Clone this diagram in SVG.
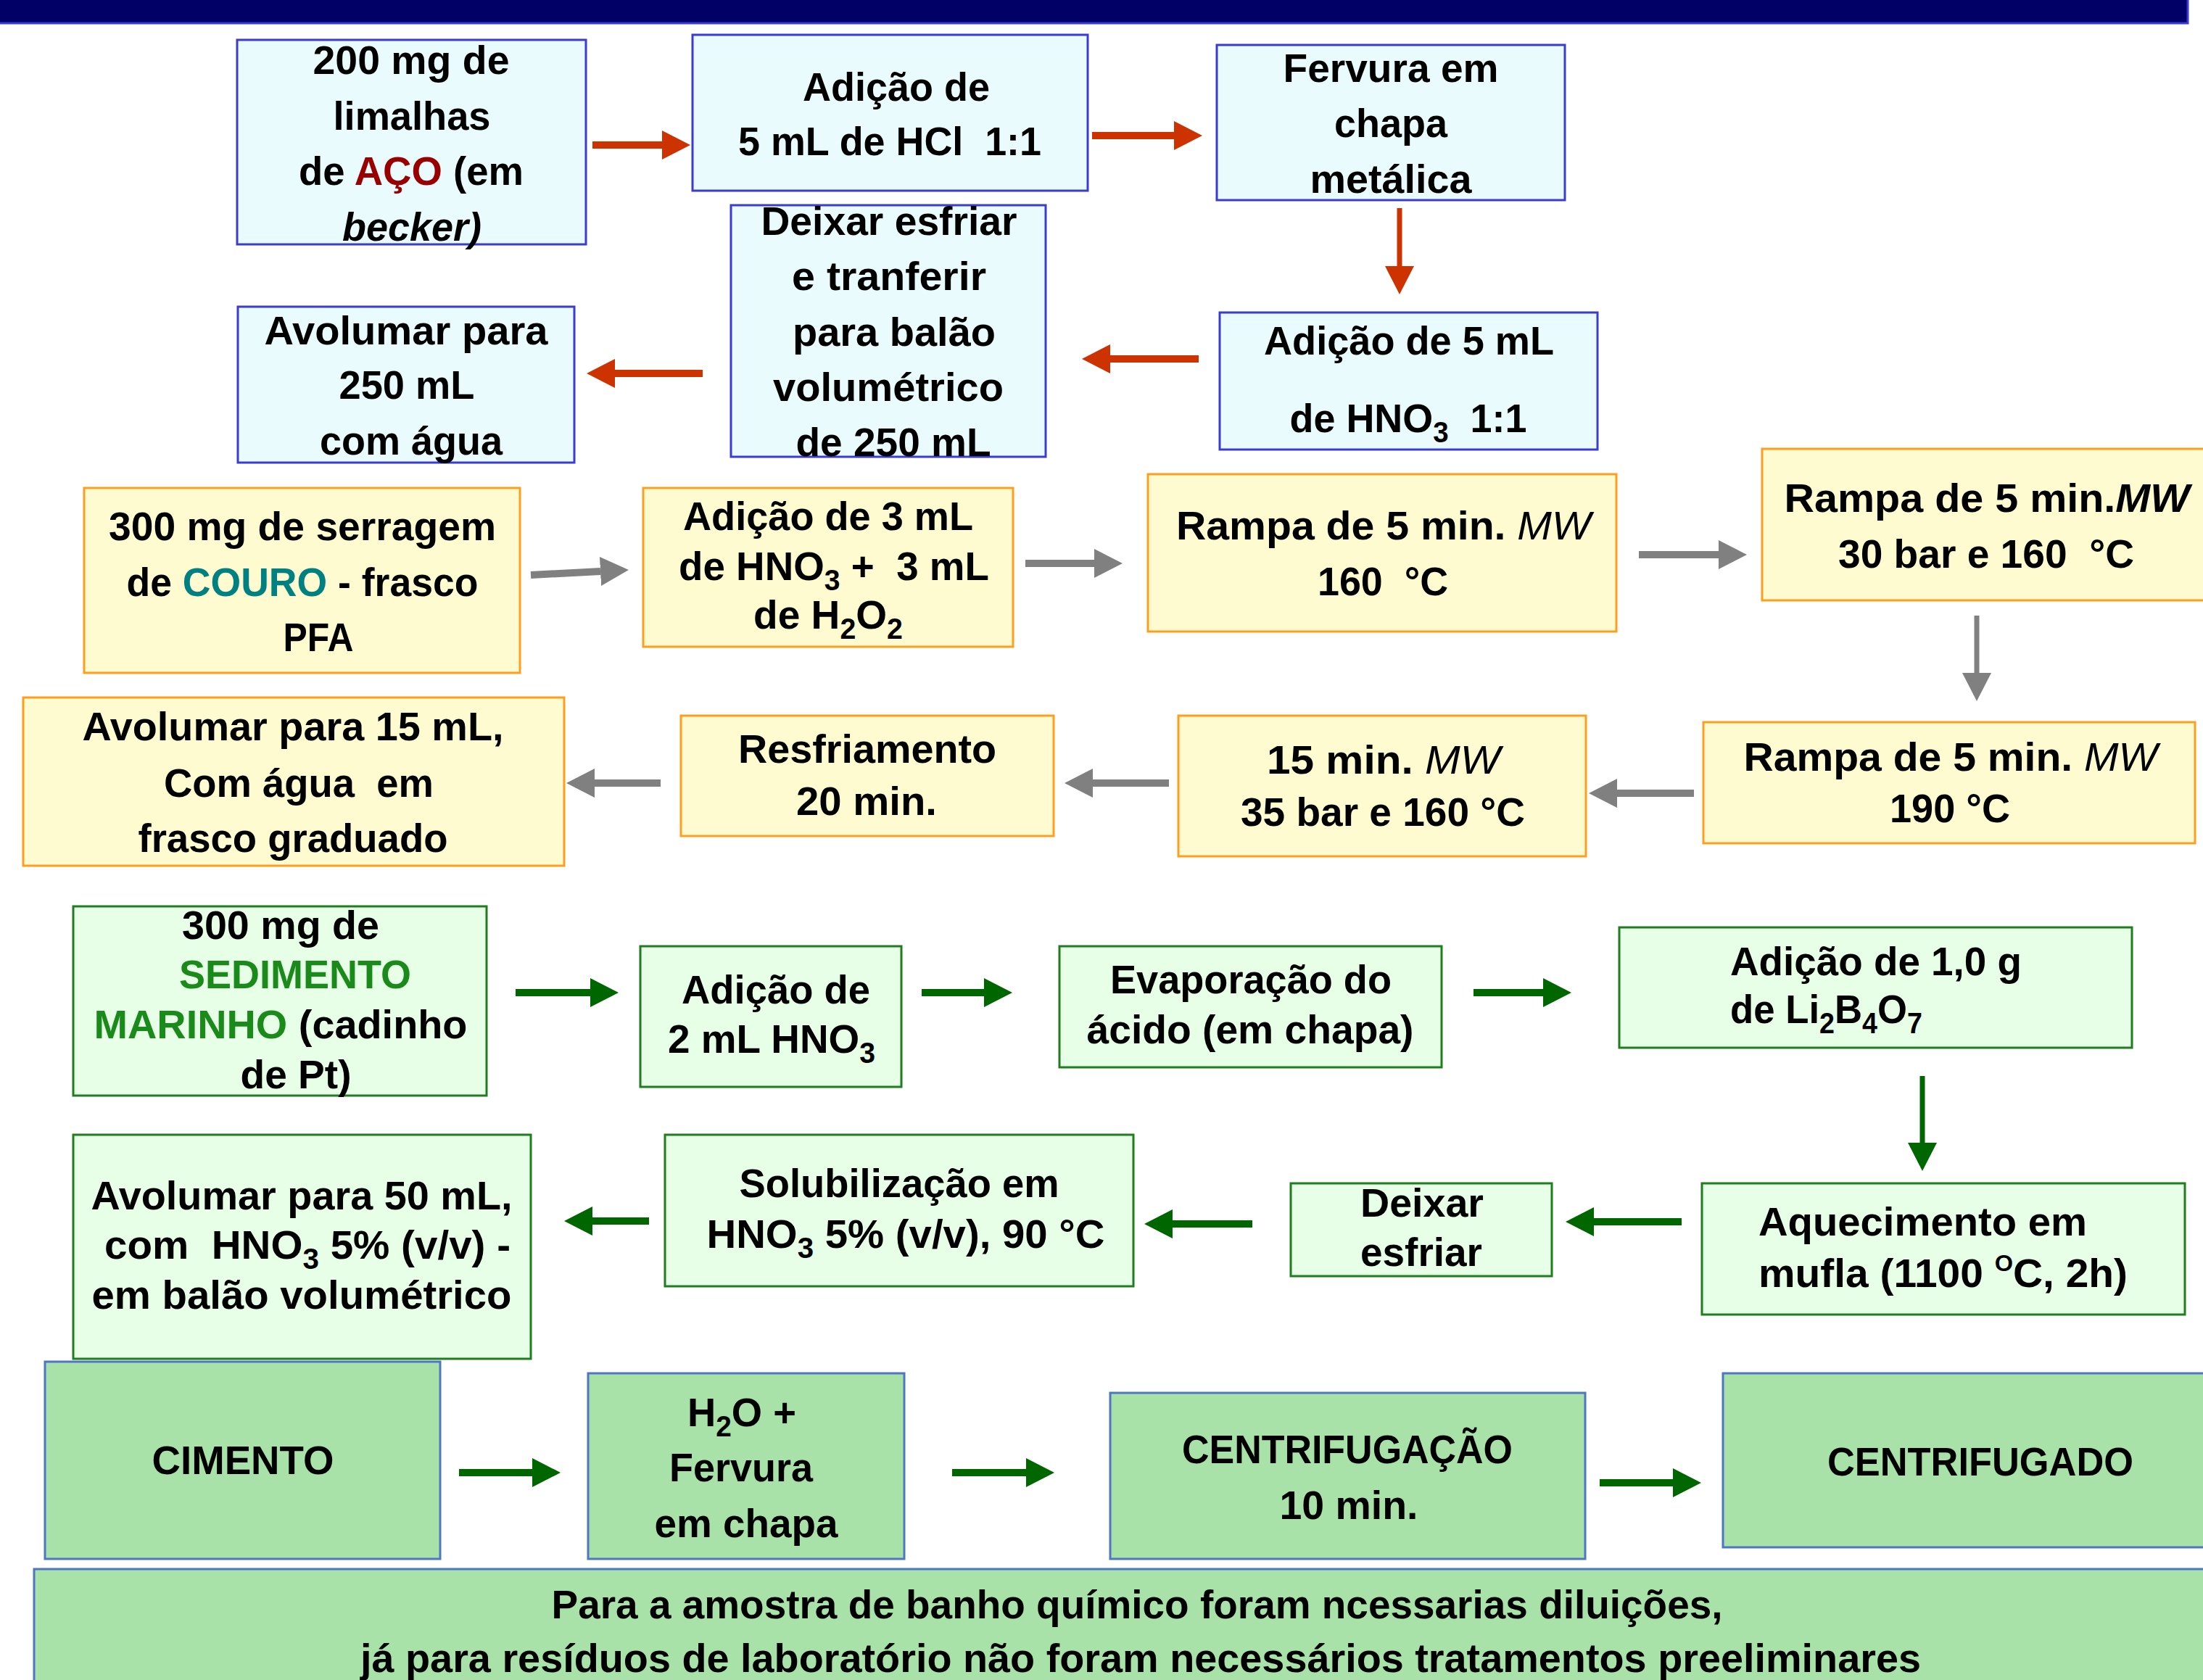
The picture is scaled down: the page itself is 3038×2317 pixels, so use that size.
<svg xmlns="http://www.w3.org/2000/svg" width="3038" height="2317" viewBox="0 0 3038 2317">
<style>
text{font-family:"Liberation Sans",Arial,sans-serif;font-weight:bold;font-size:56px;fill:#000;text-anchor:middle}
text.l{text-anchor:start}
.blue{fill:#e9fbfc;stroke:#3b3bd0;stroke-width:3}
.yel{fill:#fffbd0;stroke:#ff9d1e;stroke-width:3}
.grn{fill:#e6ffe6;stroke:#1f7d1f;stroke-width:3}
.cem{fill:#a8e2a8;stroke:#4f76c4;stroke-width:3}
.it{font-style:italic;font-weight:normal}
.itb{font-style:italic}
.sub{font-size:40px}
.aco{fill:#990000}
.couro{fill:#008080}
.sed{fill:#1a8a1a}
.ar{stroke:#cc3300;stroke-width:10;fill:none}
.ag{stroke:#808080;stroke-width:10;fill:none}
.an{stroke:#006600;stroke-width:10;fill:none}
.v{stroke-width:7}
</style>
<defs>
<marker id="hr" markerUnits="userSpaceOnUse" markerWidth="40" markerHeight="42" refX="0" refY="20" orient="auto"><path d="M0,0 L39,20 L0,40 z" fill="#cc3300"/></marker>
<marker id="hg" markerUnits="userSpaceOnUse" markerWidth="40" markerHeight="42" refX="0" refY="20" orient="auto"><path d="M0,0 L39,20 L0,40 z" fill="#808080"/></marker>
<marker id="hn" markerUnits="userSpaceOnUse" markerWidth="40" markerHeight="42" refX="0" refY="20" orient="auto"><path d="M0,0 L39,20 L0,40 z" fill="#006600"/></marker>
</defs>
<rect x="0" y="0" width="3038" height="2317" fill="#ffffff"/>
<rect x="-5" y="-5" width="3022" height="37" fill="#000066" stroke="#3b3bd1" stroke-width="3"/>

<g id="connectors">
<line class="ar" x1="817" y1="200" x2="913" y2="200" marker-end="url(#hr)"/>
<line class="ar" x1="1506" y1="187" x2="1619" y2="187" marker-end="url(#hr)"/>
<line class="ar v" x1="1930" y1="287" x2="1930" y2="367" marker-end="url(#hr)"/>
<line class="ar" x1="1653" y1="495" x2="1531" y2="495" marker-end="url(#hr)"/>
<line class="ar" x1="969" y1="515" x2="848" y2="515" marker-end="url(#hr)"/>

<line class="ag" x1="732" y1="793" x2="828" y2="788" marker-end="url(#hg)"/>
<line class="ag" x1="1414" y1="777" x2="1509" y2="777" marker-end="url(#hg)"/>
<line class="ag" x1="2260" y1="765" x2="2370" y2="765" marker-end="url(#hg)"/>
<line class="ag v" x1="2726" y1="849" x2="2726" y2="928" marker-end="url(#hg)"/>
<line class="ag" x1="2336" y1="1094" x2="2230" y2="1094" marker-end="url(#hg)"/>
<line class="ag" x1="1612" y1="1080" x2="1507" y2="1080" marker-end="url(#hg)"/>
<line class="ag" x1="911" y1="1080" x2="820" y2="1080" marker-end="url(#hg)"/>

<line class="an" x1="711" y1="1369" x2="814" y2="1369" marker-end="url(#hn)"/>
<line class="an" x1="1271" y1="1369" x2="1357" y2="1369" marker-end="url(#hn)"/>
<line class="an" x1="2032" y1="1369" x2="2128" y2="1369" marker-end="url(#hn)"/>
<line class="an v" x1="2651" y1="1484" x2="2651" y2="1576" marker-end="url(#hn)"/>
<line class="an" x1="2319" y1="1685" x2="2198" y2="1685" marker-end="url(#hn)"/>
<line class="an" x1="1727" y1="1688" x2="1617" y2="1688" marker-end="url(#hn)"/>
<line class="an" x1="895" y1="1684" x2="817" y2="1684" marker-end="url(#hn)"/>
<line class="an" x1="633" y1="2031" x2="734" y2="2031" marker-end="url(#hn)"/>
<line class="an" x1="1313" y1="2031" x2="1415" y2="2031" marker-end="url(#hn)"/>
<line class="an" x1="2206" y1="2045" x2="2307" y2="2045" marker-end="url(#hn)"/>
</g>

<g id="aco-limalhas">
<rect class="blue" x="327" y="55" width="481" height="282"/>
<text x="567" y="102" textLength="271" lengthAdjust="spacingAndGlyphs">200 mg de</text>
<text x="568" y="179" textLength="217" lengthAdjust="spacingAndGlyphs">limalhas</text>
<text x="567" y="255" textLength="310" lengthAdjust="spacingAndGlyphs">de <tspan class="aco">AÇO</tspan> (em</text>
<text x="568" y="332" textLength="192" lengthAdjust="spacingAndGlyphs" class="itb">becker)</text>
</g>
<g id="aco-hcl">
<rect class="blue" x="955" y="48" width="545" height="215"/>
<text x="1236" y="139" textLength="258" lengthAdjust="spacingAndGlyphs">Adição de</text>
<text x="1227" y="214" textLength="418" lengthAdjust="spacingAndGlyphs" xml:space="preserve">5 mL de HCl  1:1</text>
</g>
<g id="aco-fervura">
<rect class="blue" x="1678" y="62" width="480" height="214"/>
<text x="1918" y="113" textLength="297" lengthAdjust="spacingAndGlyphs">Fervura em</text>
<text x="1918" y="189" textLength="156" lengthAdjust="spacingAndGlyphs">chapa</text>
<text x="1918" y="266" textLength="223" lengthAdjust="spacingAndGlyphs">metálica</text>
</g>
<g id="aco-hno3">
<rect class="blue" x="1682" y="431" width="521" height="189"/>
<text x="1943" y="489" textLength="400" lengthAdjust="spacingAndGlyphs">Adição de 5 mL</text>
<text x="1942" y="596" textLength="327" lengthAdjust="spacingAndGlyphs" xml:space="preserve">de HNO<tspan class="sub" dy="14">3</tspan><tspan dy="-14">  1:1</tspan></text>
</g>
<g id="aco-esfriar">
<rect class="blue" x="1008" y="283" width="434" height="347"/>
<text x="1226" y="324" textLength="353" lengthAdjust="spacingAndGlyphs">Deixar esfriar</text>
<text x="1226" y="400" textLength="268" lengthAdjust="spacingAndGlyphs">e tranferir</text>
<text x="1233" y="477" textLength="280" lengthAdjust="spacingAndGlyphs">para balão</text>
<text x="1225" y="553" textLength="318" lengthAdjust="spacingAndGlyphs">volumétrico</text>
<text x="1232" y="629" textLength="269" lengthAdjust="spacingAndGlyphs">de 250 mL</text>
</g>
<g id="aco-avolumar">
<rect class="blue" x="328" y="423" width="464" height="215"/>
<text x="560" y="475" textLength="391" lengthAdjust="spacingAndGlyphs">Avolumar para</text>
<text x="561" y="550" textLength="187" lengthAdjust="spacingAndGlyphs">250 mL</text>
<text x="567" y="627" textLength="252" lengthAdjust="spacingAndGlyphs">com água</text>
</g>

<g id="couro-serragem">
<rect class="yel" x="116" y="673" width="601" height="255"/>
<text x="417" y="745" textLength="534" lengthAdjust="spacingAndGlyphs">300 mg de serragem</text>
<text x="417" y="822" textLength="485" lengthAdjust="spacingAndGlyphs">de <tspan class="couro">COURO</tspan> - frasco</text>
<text x="439" y="898" textLength="97" lengthAdjust="spacingAndGlyphs">PFA</text>
</g>
<g id="couro-adicao">
<rect class="yel" x="887" y="673" width="510" height="219"/>
<text x="1142" y="731" textLength="400" lengthAdjust="spacingAndGlyphs">Adição de 3 mL</text>
<text x="1150" y="800" textLength="428" lengthAdjust="spacingAndGlyphs" xml:space="preserve">de HNO<tspan class="sub" dy="14">3</tspan><tspan dy="-14"> +  3 mL</tspan></text>
<text x="1142" y="867" textLength="206" lengthAdjust="spacingAndGlyphs">de H<tspan class="sub" dy="14">2</tspan><tspan dy="-14">O</tspan><tspan class="sub" dy="14">2</tspan></text>
</g>
<g id="couro-rampa1">
<rect class="yel" x="1583" y="654" width="646" height="217"/>
<text x="1908" y="744" textLength="572" lengthAdjust="spacingAndGlyphs">Rampa de 5 min. <tspan class="it">MW</tspan></text>
<text x="1907" y="821" textLength="180" lengthAdjust="spacingAndGlyphs" xml:space="preserve">160  °C</text>
</g>
<g id="couro-rampa2">
<rect class="yel" x="2430" y="619" width="640" height="209"/>
<text x="2740" y="706" textLength="559" lengthAdjust="spacingAndGlyphs">Rampa de 5 min.<tspan class="itb">MW</tspan></text>
<text x="2739" y="783" textLength="408" lengthAdjust="spacingAndGlyphs" xml:space="preserve">30 bar e 160  °C</text>
</g>
<g id="couro-rampa3">
<rect class="yel" x="2349" y="996" width="678" height="167"/>
<text x="2690" y="1063" textLength="571" lengthAdjust="spacingAndGlyphs">Rampa de 5 min. <tspan class="it">MW</tspan></text>
<text x="2689" y="1134" textLength="166" lengthAdjust="spacingAndGlyphs">190 °C</text>
</g>
<g id="couro-15min">
<rect class="yel" x="1625" y="987" width="562" height="194"/>
<text x="1908" y="1067" textLength="322" lengthAdjust="spacingAndGlyphs">15 min. <tspan class="it">MW</tspan></text>
<text x="1907" y="1139" textLength="392" lengthAdjust="spacingAndGlyphs">35 bar e 160 °C</text>
</g>
<g id="couro-resfriamento">
<rect class="yel" x="939" y="987" width="514" height="166"/>
<text x="1196" y="1052" textLength="356" lengthAdjust="spacingAndGlyphs">Resfriamento</text>
<text x="1195" y="1124" textLength="194" lengthAdjust="spacingAndGlyphs">20 min.</text>
</g>
<g id="couro-avolumar">
<rect class="yel" x="32" y="962" width="746" height="232"/>
<text x="404" y="1021" textLength="581" lengthAdjust="spacingAndGlyphs">Avolumar para 15 mL,</text>
<text x="412" y="1099" textLength="372" lengthAdjust="spacingAndGlyphs" xml:space="preserve">Com água  em</text>
<text x="404" y="1175" textLength="427" lengthAdjust="spacingAndGlyphs">frasco graduado</text>
</g>

<g id="sed-amostra">
<rect class="grn" x="101" y="1250" width="570" height="261"/>
<text x="387" y="1295" textLength="272" lengthAdjust="spacingAndGlyphs">300 mg de</text>
<text x="407" y="1363" textLength="320" lengthAdjust="spacingAndGlyphs" class="sed">SEDIMENTO</text>
<text x="387" y="1432" textLength="515" lengthAdjust="spacingAndGlyphs"><tspan class="sed">MARINHO</tspan> (cadinho</text>
<text x="408" y="1501" textLength="153" lengthAdjust="spacingAndGlyphs">de Pt)</text>
</g>
<g id="sed-adicao">
<rect class="grn" x="883" y="1305" width="360" height="194"/>
<text x="1070" y="1384" textLength="260" lengthAdjust="spacingAndGlyphs">Adição de</text>
<text x="1064" y="1452" textLength="286" lengthAdjust="spacingAndGlyphs">2 mL HNO<tspan class="sub" dy="14">3</tspan></text>
</g>
<g id="sed-evaporacao">
<rect class="grn" x="1461" y="1305" width="527" height="167"/>
<text x="1725" y="1370" textLength="388" lengthAdjust="spacingAndGlyphs">Evaporação do</text>
<text x="1724" y="1439" textLength="451" lengthAdjust="spacingAndGlyphs">ácido (em chapa)</text>
</g>
<g id="sed-borato">
<rect class="grn" x="2233" y="1279" width="707" height="166"/>
<text class="l" x="2386" y="1345" textLength="402" lengthAdjust="spacingAndGlyphs">Adição de 1,0 g</text>
<text class="l" x="2386" y="1411" textLength="265" lengthAdjust="spacingAndGlyphs">de Li<tspan class="sub" dy="14">2</tspan><tspan dy="-14">B</tspan><tspan class="sub" dy="14">4</tspan><tspan dy="-14">O</tspan><tspan class="sub" dy="14">7</tspan></text>
</g>
<g id="sed-mufla">
<rect class="grn" x="2347" y="1632" width="666" height="181"/>
<text class="l" x="2425" y="1704" textLength="453" lengthAdjust="spacingAndGlyphs">Aquecimento em</text>
<text class="l" x="2425" y="1775" textLength="509" lengthAdjust="spacingAndGlyphs">mufla (1100 <tspan font-size="32" dy="-22">O</tspan><tspan dy="22">C, 2h)</tspan></text>
</g>
<g id="sed-esfriar">
<rect class="grn" x="1780" y="1632" width="360" height="128"/>
<text x="1961" y="1678" textLength="170" lengthAdjust="spacingAndGlyphs">Deixar</text>
<text x="1960" y="1746" textLength="168" lengthAdjust="spacingAndGlyphs">esfriar</text>
</g>
<g id="sed-solubilizacao">
<rect class="grn" x="917" y="1565" width="646" height="209"/>
<text x="1240" y="1651" textLength="441" lengthAdjust="spacingAndGlyphs">Solubilização em</text>
<text x="1249" y="1721" textLength="549" lengthAdjust="spacingAndGlyphs">HNO<tspan class="sub" dy="14">3</tspan><tspan dy="-14"> 5% (v/v), 90 °C</tspan></text>
</g>
<g id="sed-avolumar">
<rect class="grn" x="101" y="1565" width="631" height="309"/>
<text x="416" y="1668" textLength="581" lengthAdjust="spacingAndGlyphs">Avolumar para 50 mL,</text>
<text x="424" y="1736" textLength="560" lengthAdjust="spacingAndGlyphs" xml:space="preserve">com  HNO<tspan class="sub" dy="14">3</tspan><tspan dy="-14"> 5% (v/v) -</tspan></text>
<text x="416" y="1805" textLength="579" lengthAdjust="spacingAndGlyphs">em balão volumétrico</text>
</g>

<g id="cimento">
<rect class="cem" x="62" y="1878" width="545" height="272"/>
<text x="335" y="2033" textLength="251" lengthAdjust="spacingAndGlyphs">CIMENTO</text>
</g>
<g id="cim-fervura">
<rect class="cem" x="811" y="1894" width="436" height="256"/>
<text x="1023" y="1967" textLength="150" lengthAdjust="spacingAndGlyphs">H<tspan class="sub" dy="14">2</tspan><tspan dy="-14">O +</tspan></text>
<text x="1022" y="2043" textLength="198" lengthAdjust="spacingAndGlyphs">Fervura</text>
<text x="1029" y="2120" textLength="253" lengthAdjust="spacingAndGlyphs">em chapa</text>
</g>
<g id="cim-centrifugacao">
<rect class="cem" x="1531" y="1921" width="655" height="229"/>
<text x="1858" y="2018" textLength="456" lengthAdjust="spacingAndGlyphs">CENTRIFUGAÇÃO</text>
<text x="1860" y="2095" textLength="191" lengthAdjust="spacingAndGlyphs">10 min.</text>
</g>
<g id="cim-centrifugado">
<rect class="cem" x="2376" y="1894" width="700" height="240"/>
<text x="2731" y="2035" textLength="422" lengthAdjust="spacingAndGlyphs">CENTRIFUGADO</text>
</g>
<g id="nota">
<rect class="cem" x="47" y="2164" width="3050" height="200"/>
<text x="1568" y="2232" textLength="1615" lengthAdjust="spacingAndGlyphs">Para a amostra de banho químico foram ncessarias diluições,</text>
<text x="1573" y="2306" textLength="2152" lengthAdjust="spacingAndGlyphs">já para resíduos de laboratório não foram necessários tratamentos preeliminares</text>
</g>
</svg>
